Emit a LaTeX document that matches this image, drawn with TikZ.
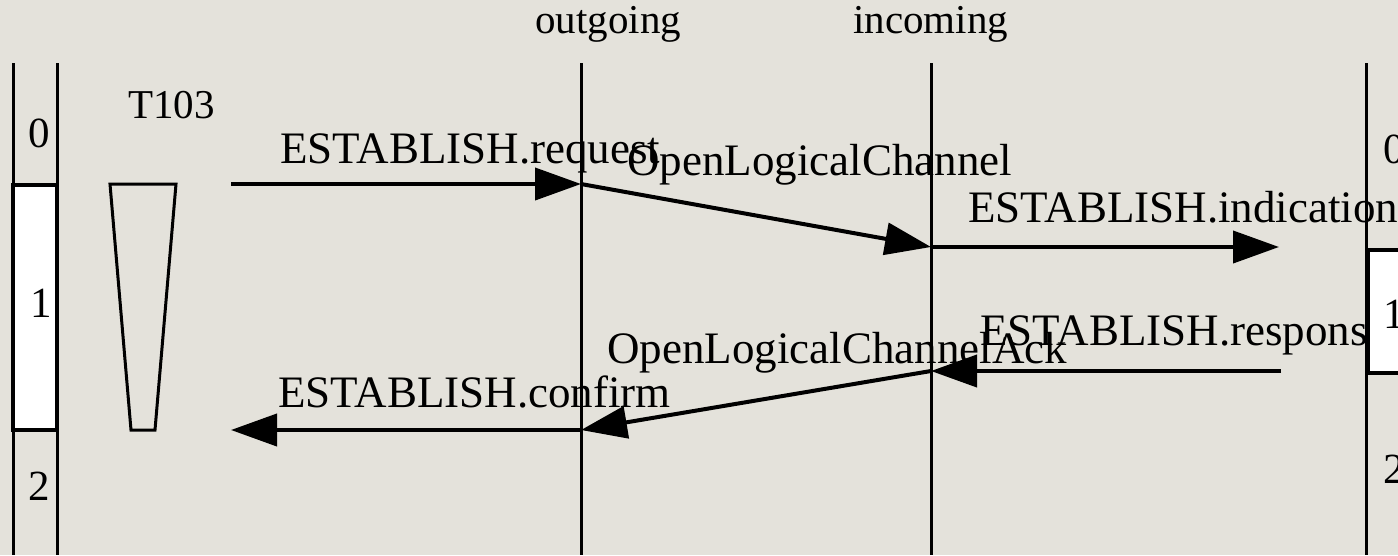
\documentclass[tikz,border=0pt]{standalone}
\usepackage{fontspec}
\setmainfont{Liberation Serif}
\usetikzlibrary{arrows.meta}
\definecolor{bgc}{HTML}{E4E2DB}
\tikzset{
  lbl/.style={anchor=base west, inner sep=0pt, font=\fontsize{45}{54}\selectfont},
  hdr/.style={anchor=base west, inner sep=0pt, font=\fontsize{41}{49}\selectfont},
  dig/.style={anchor=base west, inner sep=0pt, font=\fontsize{43}{52}\selectfont},
  life/.style={line width=3pt},
  msg/.style={line width=4pt, -{Triangle[length=46pt,width=32pt]}},
  statebox/.style={line width=4pt, fill=white},
}
\begin{document}
\begin{tikzpicture}[x=1pt,y=-1pt]
\fill[bgc] (0,0) rectangle (1398,555);
\useasboundingbox (0,0) rectangle (1398,555);
\clip (0,0) rectangle (1398,555);
% left state column
\draw[life] (13,63) -- (13,555);
\draw[life] (57,63) -- (57,555);
\draw[statebox] (13,185) rectangle (57,430);
\node[dig] (l0) at (28,147) {0};
\node[dig] (l1) at (30,317) {1};
\node[dig] (l2) at (28,500) {2};
% timer
\node[hdr] (t103) at (128,118) {T103};
\draw[line width=3pt] (110,184) -- (176,184) -- (155,430) -- (131,430) -- cycle;
% lifelines
\node[hdr] (outl) at (535,33) {outgoing};
\node[hdr] (inl) at (853,33) {incoming};
\coordinate (otop) at (581,63);
\coordinate (obot) at (581,555);
\coordinate (itop) at (931,63);
\coordinate (ibot) at (931,555);
\coordinate (rtop) at (1366,63);
\coordinate (rbot) at (1366,555);
\draw[life] (otop) -- (obot);
\draw[life] (itop) -- (ibot);
\draw[life] (rtop) -- (rbot);
% message points
\coordinate (a0) at (231,184);
\coordinate (a1) at (581,184);
\coordinate (b1) at (931,247);
\coordinate (b2) at (1279,247);
\coordinate (c0) at (1281,371);
\coordinate (c1) at (931,371);
\coordinate (d1) at (581,430);
\coordinate (d0) at (231,430);
% labels
\node[lbl] (m1) at (280,163) {ESTABLISH.request};
\node[lbl] (m2) at (627,175) {OpenLogicalChannel};
\node[lbl] (m3) at (968,222) {ESTABLISH.indication};
\node[lbl] (m4) at (980,345) {ESTABLISH.response};
\node[lbl] (m5) at (607,363) {OpenLogicalChannelAck};
\node[lbl] (m6) at (278,407) {ESTABLISH.confirm};
% arrows
\draw[msg] (a0) -- (a1);
\draw[msg] (a1) -- (b1);
\draw[msg] (b1) -- (b2);
\draw[msg] (c0) -- (c1);
\draw[msg] (c1) -- (d1);
\draw[msg] (d1) -- (d0);
% right state column
\draw[statebox] (1368,250) rectangle (1410,373);
\node[dig] (r0) at (1383,163) {0};
\node[dig] (r1) at (1383,328) {1};
\node[dig] (r2) at (1383,483) {2};
\end{tikzpicture}
\end{document}
